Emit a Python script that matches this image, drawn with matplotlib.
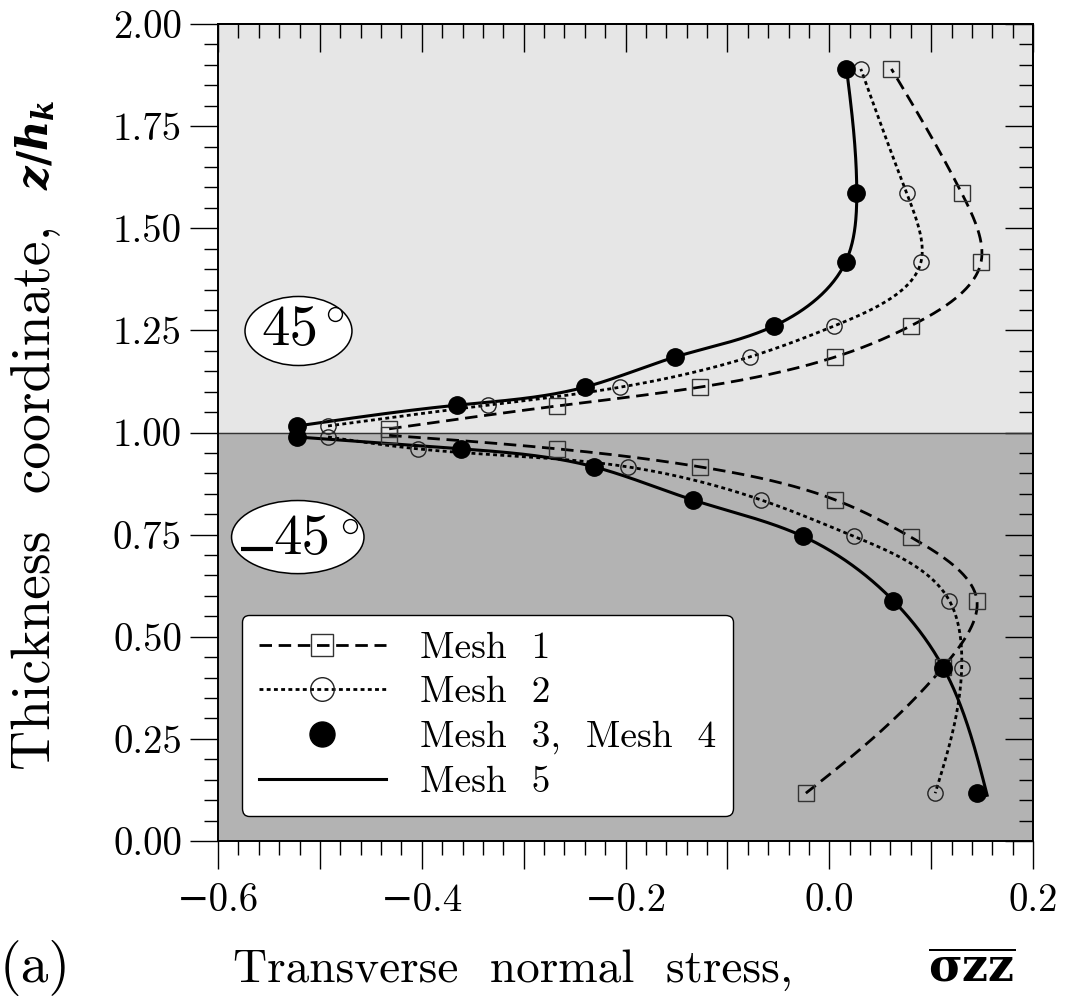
import numpy as np
import matplotlib
matplotlib.use("Agg")
import matplotlib.pyplot as plt
from matplotlib.patches import Ellipse
from matplotlib.ticker import MultipleLocator, FormatStrFormatter

plt.rcParams['font.family'] = ['cmr10', 'DejaVu Serif']
plt.rcParams['axes.unicode_minus'] = True
plt.rcParams['mathtext.fontset'] = 'custom'
plt.rcParams['mathtext.it'] = 'DejaVu Serif:italic:bold'
plt.rcParams['mathtext.rm'] = 'DejaVu Serif:bold'
plt.rcParams['mathtext.bf'] = 'DejaVu Serif:bold'

# thickness positions of the sampling points (upper layer / lower layer)
z_up = [1.016, 1.067, 1.111, 1.185, 1.261, 1.417, 1.586, 1.890]
z_lo = [0.989, 0.960, 0.916, 0.835, 0.746, 0.588, 0.424, 0.117]

# Mesh 1 (squares, dashed)
m1_up = [-0.432, -0.267, -0.127, 0.006, 0.080, 0.149, 0.130, 0.061]
m1_lo = [-0.432, -0.267, -0.127, 0.006, 0.080, 0.145, 0.112, -0.023]
m1_zup = [1.009, 1.065, 1.111, 1.185, 1.261, 1.417, 1.586, 1.890]
m1_zlo = [0.993, 0.960, 0.916, 0.835, 0.744, 0.588, 0.426, 0.117]

# Mesh 2 (open circles, dotted)
m2_up = [-0.492, -0.335, -0.205, -0.078, 0.005, 0.090, 0.076, 0.031]
m2_lo = [-0.492, -0.404, -0.198, -0.067, 0.024, 0.118, 0.130, 0.104]

# Mesh 3, Mesh 4 (filled circles)
m3_up = [-0.522, -0.365, -0.240, -0.151, -0.054, 0.016, 0.026, 0.016]
m3_lo = [-0.522, -0.361, -0.231, -0.134, -0.026, 0.063, 0.112, 0.145]

# Mesh 5 (solid line)
m5_up = [-0.522, -0.365, -0.240, -0.151, -0.054, 0.016, 0.027, 0.017]
m5_lo = [-0.522, -0.361, -0.231, -0.134, -0.026, 0.063, 0.112, 0.155]
m5_zlo = [0.989, 0.960, 0.916, 0.835, 0.746, 0.588, 0.424, 0.112]


def natural_spline(t, v, tt):
    n = len(t)
    h = np.diff(t)
    A = np.zeros((n, n))
    r = np.zeros(n)
    A[0, 0] = A[-1, -1] = 1.0
    for i in range(1, n - 1):
        A[i, i - 1] = h[i - 1]
        A[i, i] = 2 * (h[i - 1] + h[i])
        A[i, i + 1] = h[i]
        r[i] = 6 * ((v[i + 1] - v[i]) / h[i] - (v[i] - v[i - 1]) / h[i - 1])
    m = np.linalg.solve(A, r)
    k = np.clip(np.searchsorted(t, tt) - 1, 0, n - 2)
    d = tt - t[k]
    hk = h[k]
    b = (v[k + 1] - v[k]) / hk - hk * (2 * m[k] + m[k + 1]) / 6
    return v[k] + b * d + m[k] / 2 * d ** 2 + (m[k + 1] - m[k]) / (6 * hk) * d ** 3


def smooth(x, y, n=400):
    # smooth curve through the points, chord-length parameter in screen-like units
    x = np.asarray(x) * 2.5
    y = np.asarray(y, dtype=float)
    t = np.concatenate([[0], np.cumsum(np.hypot(np.diff(x), np.diff(y)))])
    tt = np.linspace(0, t[-1], n)
    return natural_spline(t, x, tt) / 2.5, natural_spline(t, y, tt)


fig = plt.figure(figsize=(10.66, 9.96), dpi=100)
ax = fig.add_axes([218 / 1066, 1 - 841 / 996, 815 / 1066, 817 / 996])

ax.axhspan(1.0, 2.0, color='#e6e6e6', zorder=0)
ax.axhspan(0.0, 1.0, color='#b3b3b3', zorder=0)
ax.axhline(1.0, color='#333333', lw=1.0, zorder=1)

lw = 2.0
d1 = dict(color='black', lw=lw, dashes=(4.5, 2.4))
d2 = dict(color='black', lw=lw, dashes=(1.4, 1.2))
for xs, zs in [(m1_up, m1_zup), (m1_lo, m1_zlo)]:
    sx, sz = smooth(xs, zs)
    ax.plot(sx, sz, **d1, zorder=3)
for xs, zs in [(m2_up, z_up), (m2_lo, z_lo)]:
    sx, sz = smooth(xs, zs)
    ax.plot(sx, sz, **d2, zorder=3)
for xs, zs in [(m5_up, z_up), (m5_lo, m5_zlo)]:
    sx, sz = smooth(xs, zs)
    ax.plot(sx, sz, color='black', lw=2.2, zorder=4)

sq = dict(marker='s', ms=11.5, mfc='none', mec='#333333', mew=1.0, ls='none', zorder=5)
oc = dict(marker='o', ms=11, mfc='none', mec='#222222', mew=1.0, ls='none', zorder=5)
fc = dict(marker='o', ms=12.5, mfc='black', mec='black', ls='none', zorder=6)
ax.plot(m1_up + m1_lo, m1_zup + m1_zlo, **sq)
ax.plot(m2_up + m2_lo, z_up + z_lo, **oc)
ax.plot(m3_up + m3_lo, z_up + z_lo, **fc)

# legend handles (markers drawn larger in the key)
h1, = ax.plot([], [], **d1, marker='s', ms=16.5, mfc='none', mec='#333333', mew=1.0)
h2, = ax.plot([], [], **d2, marker='o', ms=17, mfc='none', mec='#222222', mew=1.0)
h3, = ax.plot([], [], marker='o', ms=18, color='black', ls='none')
h4, = ax.plot([], [], color='black', lw=2.2)
leg = ax.legend([h1, h2, h3, h4], ['Mesh  1', 'Mesh  2', 'Mesh  3,  Mesh  4', 'Mesh  5'],
                loc='lower left', bbox_to_anchor=(0.029, 0.031), borderaxespad=0,
                fontsize=27, handlelength=3.4, handletextpad=0.9, labelspacing=0.3,
                borderpad=0.45, frameon=True, fancybox=True, framealpha=1,
                edgecolor='black', numpoints=1, markerscale=1)
leg.get_frame().set_linewidth(1.0)
leg.set_zorder(7)

# ply angle badges
ax.add_patch(Ellipse((-0.521, 1.2485), 0.105, 0.169, fc='white', ec='black', lw=1.1, zorder=2))
ax.add_patch(Ellipse((-0.5217, 0.744), 0.130, 0.179, fc='white', ec='black', lw=1.1, zorder=2))
ax.text(-0.557, 1.214, '45', fontsize=41, ha='left', va='baseline', zorder=3)
ax.text(-0.546, 0.7026, '45', fontsize=41, ha='left', va='baseline', zorder=3)
ax.plot([-0.4855], [1.290], marker='o', ms=10, mfc='white', mec='black', mew=1.0, zorder=3)
ax.plot([-0.4705], [0.772], marker='o', ms=10, mfc='white', mec='black', mew=1.0, zorder=3)
ax.plot([-0.5775, -0.546], [0.715, 0.715], color='black', lw=3.0, solid_capstyle='butt', zorder=3)

ax.set_xlim(-0.6, 0.2)
ax.set_ylim(0, 2)
ax.xaxis.set_minor_locator(MultipleLocator(0.02))
ax.yaxis.set_major_locator(MultipleLocator(0.25))
ax.yaxis.set_minor_locator(MultipleLocator(0.05))
ax.set_xticks([-0.6, -0.5, -0.4, -0.3, -0.2, -0.1, 0.0, 0.1, 0.2])
ax.set_xticklabels(['−0.6', '', '−0.4', '', '−0.2', '', '0.0', '', '0.2'])
ax.yaxis.set_major_formatter(FormatStrFormatter('%.2f'))
ax.tick_params(which='major', direction='out', length=20, width=1.0, labelsize=28, pad=6)
ax.tick_params(which='minor', direction='out', length=10, width=1.0)
ax.tick_params(axis='x', which='major', pad=10)

top = ax.secondary_xaxis('top')
top.xaxis.set_major_locator(MultipleLocator(0.1))
top.xaxis.set_minor_locator(MultipleLocator(0.02))
top.tick_params(which='major', direction='in', length=20, width=1.0, labeltop=False)
top.tick_params(which='minor', direction='in', length=10, width=1.0)
right = ax.secondary_yaxis('right')
right.yaxis.set_major_locator(MultipleLocator(0.25))
right.yaxis.set_minor_locator(MultipleLocator(0.05))
right.tick_params(which='major', direction='in', length=20, width=1.0, labelright=False)
right.tick_params(which='minor', direction='in', length=10, width=1.0)
for s in list(ax.spines.values()) + [top.spines['top'], right.spines['right']]:
    s.set_linewidth(1.4)

# axis titles
fig.text(35 / 1066, 1 - 497 / 996, 'Thickness  coordinate,', fontsize=40,
         rotation=90, ha='center', va='center')
fig.text(35 / 1066, 1 - 145 / 996, '$z/h_k$', fontsize=30,
         rotation=90, ha='center', va='center')
fig.text(233 / 1066, 1 - 982 / 996, 'Transverse  normal  stress,', fontsize=34,
         ha='left', va='baseline')
fig.text(928 / 1066, 1 - 982 / 996, r'$\overline{\mathbf{\sigma zz}}$', fontsize=33,
         ha='left', va='baseline')
fig.text(0.0, 1 - 982 / 996, '(a)', fontsize=40, ha='left', va='baseline')

fig.savefig('out.png', dpi=100)
